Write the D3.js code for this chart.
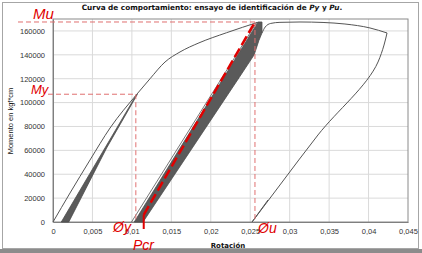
<!DOCTYPE html>
<html>
<head>
<meta charset="utf-8">
<script src="https://cdn.jsdelivr.net/npm/d3@7"></script>
<style>
  body { margin: 0; background: #fff; }
  svg { display: block; }
</style>
</head>
<body>
<svg id="drawing_region"></svg>
<script>
// tick values
const xTicks = [0, 0.005, 0.01, 0.015, 0.02, 0.025, 0.03, 0.035, 0.04, 0.045];
const yTicks = [0, 20000, 40000, 60000, 80000, 100000, 120000, 140000, 160000];

// envelope: first loading up to the peak (rotation, moment)
const envelope = [
  [0, 0], [0.00216, 24300], [0.00469, 51900], [0.00723, 78700], [0.01065, 107200],
  [0.0123, 120000], [0.0142, 134000], [0.0161, 142400], [0.0185, 150000],
  [0.0220, 158500], [0.0260, 167300]
];
// small cycles before yield (filled band)
const band1 = [
  [0.00105, 0], [0.0105, 105800], [0.0107, 107000], [0.0068, 62000], [0.0020, 0]
];
// thin first branch of the cycles between yield and peak
const band2Edge = [[0.00995, 0], [0.02585, 167500]];
// cycles between yield and peak (filled band)
const band2 = [
  [0.0103, 0], [0.0260, 167500], [0.02649, 167500], [0.02649, 158300],
  [0.0261, 152000], [0.0255, 140000], [0.0236, 121000], [0.01141, 0]
];
// post peak branch
const postPeak = [
  [0.02649, 158300], [0.02690, 163300], [0.02760, 166300], [0.02877, 167200],
  [0.03131, 167500], [0.03423, 167100], [0.03701, 165800], [0.04018, 162500],
  [0.04234, 158300]
];
// final unloading
const unloading = [
  [0.04234, 158300], [0.04196, 148200], [0.0412, 134000], [0.03359, 72900],
  [0.02877, 31000], [0.02523, 0]
];
const reload = [[0.02523, 0], [0.02725, 18400]];

// identified points
const My = 107000, Mu = 167500;
const phiY = 0.0105, phiU = 0.0256, Pcr = 0.0115;

const config = {
  width: 422, height: 253,
  plot: {left: 53, right: 408, top: 19, bottom: 222}
};

const svg = d3.select('#drawing_region')
  .attr('width', config.width)
  .attr('height', config.height);

// outer frame
svg.append('rect')
  .attr('x', 2.5).attr('y', 2.5)
  .attr('width', 416).attr('height', 246)
  .attr('fill', '#fff').attr('stroke', '#a6a6a6');
svg.append('rect')
  .attr('x', 0).attr('y', 249)
  .attr('width', 422).attr('height', 4)
  .attr('fill', '#8c8c8c');

const xscale = d3.scaleLinear().domain([0, 0.045]).range([config.plot.left, config.plot.right]);
const yscale = d3.scaleLinear().domain([0, 170000]).range([config.plot.bottom, config.plot.top]);

const fmt = d => String(d).replace('.', ',');

// gridlines
svg.append('g').selectAll('line')
  .data(xTicks.slice(1, -1))
  .join('line')
  .attr('x1', d => xscale(d)).attr('x2', d => xscale(d))
  .attr('y1', config.plot.top).attr('y2', config.plot.bottom)
  .attr('stroke', '#dadada').attr('stroke-width', 1);
svg.append('g').selectAll('line')
  .data(yTicks.slice(1))
  .join('line')
  .attr('x1', config.plot.left).attr('x2', config.plot.right)
  .attr('y1', d => yscale(d)).attr('y2', d => yscale(d))
  .attr('stroke', '#dadada').attr('stroke-width', 1);

// plot border
svg.append('rect')
  .attr('x', config.plot.left).attr('y', config.plot.top)
  .attr('width', config.plot.right - config.plot.left)
  .attr('height', config.plot.bottom - config.plot.top)
  .attr('fill', 'none').attr('stroke', '#8a8a8a').attr('stroke-width', 1);

// axes
const xaxis = d3.axisBottom(xscale).tickValues(xTicks).tickSize(0).tickPadding(7).tickFormat(fmt);
const yaxis = d3.axisLeft(yscale).tickValues(yTicks).tickSize(0).tickPadding(8).tickFormat(d => d);

svg.append('g')
  .attr('transform', `translate(0, ${config.plot.bottom})`)
  .call(xaxis)
  .call(g => g.select('.domain').attr('stroke', '#7f7f7f'))
  .selectAll('text')
  .attr('font-family', 'Liberation Sans, Arial, sans-serif')
  .attr('font-size', 7.5).attr('fill', '#333');

svg.append('g')
  .attr('transform', `translate(${config.plot.left}, 0)`)
  .call(yaxis)
  .call(g => g.select('.domain').attr('stroke', '#7f7f7f'))
  .selectAll('text')
  .attr('font-family', 'Liberation Sans, Arial, sans-serif')
  .attr('font-size', 7.5).attr('fill', '#333');

// curves
const line = d3.line().x(d => xscale(d[0])).y(d => yscale(d[1]));
const smoothX = d3.line().x(d => xscale(d[0])).y(d => yscale(d[1])).curve(d3.curveMonotoneX);
const smoothY = d3.line().x(d => xscale(d[0])).y(d => yscale(d[1])).curve(d3.curveMonotoneY);

svg.append('path')
  .attr('d', line(band1) + 'Z')
  .attr('fill', '#5a5a5a').attr('stroke', '#4d4d4d').attr('stroke-width', 0.8);

svg.append('path')
  .attr('d', line(band2) + 'Z')
  .attr('fill', '#5a5a5a').attr('stroke', '#4d4d4d').attr('stroke-width', 0.8);

svg.append('path')
  .attr('d', line(band2Edge))
  .attr('fill', 'none').attr('stroke', '#555').attr('stroke-width', 0.8);

svg.append('path')
  .attr('d', smoothX(envelope))
  .attr('fill', 'none').attr('stroke', '#555').attr('stroke-width', 1);

svg.append('path')
  .attr('d', smoothX(postPeak))
  .attr('fill', 'none').attr('stroke', '#555').attr('stroke-width', 1);

svg.append('path')
  .attr('d', smoothY(unloading))
  .attr('fill', 'none').attr('stroke', '#555').attr('stroke-width', 1);

svg.append('path')
  .attr('d', line(reload))
  .attr('fill', 'none').attr('stroke', '#555').attr('stroke-width', 1);

// guide lines
const guide = '#e07070';
svg.append('line')
  .attr('x1', 18).attr('x2', xscale(phiU) + 2)
  .attr('y1', yscale(Mu)).attr('y2', yscale(Mu))
  .attr('stroke', guide).attr('stroke-dasharray', '5,3');
svg.append('line')
  .attr('x1', 48).attr('x2', xscale(phiY))
  .attr('y1', yscale(My)).attr('y2', yscale(My))
  .attr('stroke', guide).attr('stroke-dasharray', '5,3');
svg.append('line')
  .attr('x1', xscale(phiY)).attr('x2', xscale(phiY))
  .attr('y1', yscale(My)).attr('y2', yscale(0))
  .attr('stroke', guide).attr('stroke-dasharray', '5,3');
svg.append('line')
  .attr('x1', xscale(phiU)).attr('x2', xscale(phiU))
  .attr('y1', yscale(Mu)).attr('y2', yscale(0))
  .attr('stroke', guide).attr('stroke-dasharray', '5,3');

// Pcr line
svg.append('line')
  .attr('x1', xscale(Pcr)).attr('x2', xscale(Pcr))
  .attr('y1', yscale(6000)).attr('y2', yscale(0) + 7)
  .attr('stroke', '#e00000').attr('stroke-width', 2);
svg.append('line')
  .attr('x1', xscale(Pcr)).attr('x2', xscale(phiU))
  .attr('y1', yscale(6000)).attr('y2', yscale(Mu))
  .attr('stroke', '#e00000').attr('stroke-width', 2.5)
  .attr('stroke-dasharray', '10,4');

// labels
const red = (x, y, t, size) => svg.append('text')
  .attr('x', x).attr('y', y)
  .attr('font-family', 'Liberation Sans, Arial, sans-serif')
  .attr('font-style', 'italic')
  .attr('font-size', size).attr('fill', '#e00000')
  .text(t);
red(33, 19, 'Mu', 15);
red(31, 94, 'My', 13);
red(113, 232, 'Øy', 14);
red(258, 233, 'Øu', 14);
red(133, 250, 'Pcr', 14);

svg.append('text')
  .attr('x', 212).attr('y', 10)
  .attr('text-anchor', 'middle')
  .attr('font-family', 'DejaVu Sans, sans-serif')
  .attr('font-weight', 'bold').attr('font-size', 7.3)
  .attr('fill', '#111')
  .html('Curva de comportamiento: ensayo de identificación de <tspan font-style="italic">Py</tspan> y <tspan font-style="italic">Pu</tspan>.');

svg.append('text')
  .attr('transform', 'translate(13, 121) rotate(-90)')
  .attr('text-anchor', 'middle')
  .attr('font-family', 'Liberation Sans, Arial, sans-serif')
  .attr('font-size', 7.5).attr('fill', '#111')
  .text('Momento en kgf*cm');

svg.append('text')
  .attr('x', 228).attr('y', 248)
  .attr('text-anchor', 'middle')
  .attr('font-family', 'DejaVu Sans, sans-serif')
  .attr('font-weight', 'bold').attr('font-size', 7)
  .attr('fill', '#111')
  .text('Rotación');
</script>
</body>
</html>
